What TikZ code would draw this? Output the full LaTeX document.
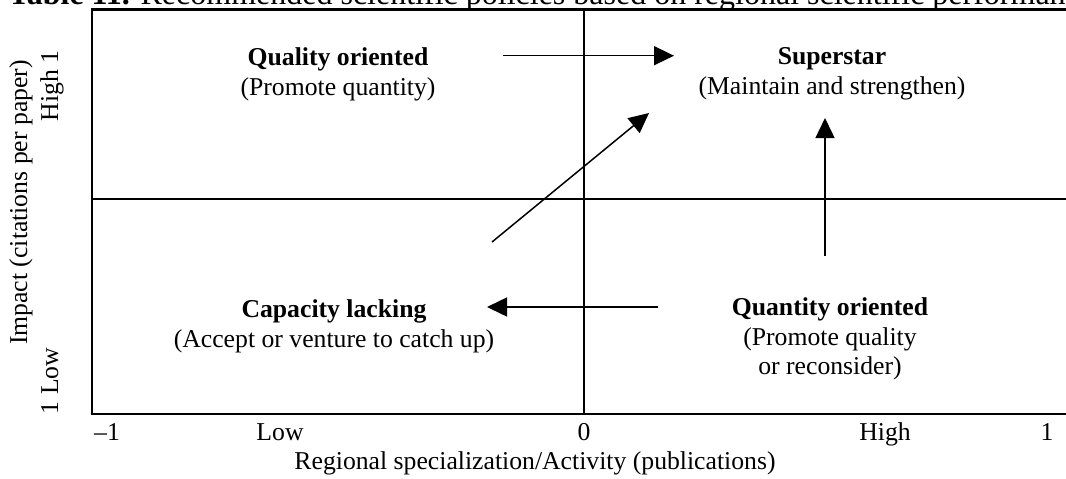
\documentclass[tikz,border=0pt]{standalone}
\usepackage{fontspec}
\setmainfont{Liberation Serif}
\usetikzlibrary{arrows.meta, positioning}

\tikzset{
  quad/.style={align=center, inner sep=0pt, font=\fontsize{12.85}{14.75}\selectfont},
  axislbl/.style={inner sep=0pt, font=\fontsize{12.85}{14.75}\selectfont},
  move/.style={line width=0.75pt, -{Triangle[length=10pt, width=9.5pt]}}
}

\begin{document}
\begin{tikzpicture}[x=0.5pt, y=-0.5pt]
    \useasboundingbox (0,0) rectangle (1066,478);

    % Caption, cut off by the top of the page
    \node[anchor=base west, inner sep=0pt, font=\fontsize{16}{19}\selectfont] (caption) at (8,4)
        {\textbf{Table 11.} Recommended scientific policies based on regional scientific performance};

    % Frame and the two axes through the middle
    \draw[line width=1.25pt] (92,9.7) rectangle (1100,414);
    \draw[line width=0.9pt] (584,9.7) -- (584,414);
    \draw[line width=0.9pt] (92,199) -- (1100,199);

    % Quadrants (base = baseline of the last line)
    \node[quad, anchor=base] (quality) at (338,95) {\textbf{Quality oriented}\\(Promote quantity)};
    \node[quad, anchor=base] (superstar) at (832,94) {\textbf{Superstar}\\(Maintain and strengthen)};
    \node[quad, anchor=base] (capacity) at (334,347) {\textbf{Capacity lacking}\\(Accept or venture to catch up)};
    \node[quad, anchor=base] (quantity) at (830,374.5) {\textbf{Quantity oriented}\\(Promote quality\\or reconsider)};

    % Policy moves
    \coordinate (qualfrom) at (503,55.7);
    \coordinate (qualto) at (674,55.7);
    \coordinate (capfrom) at (492,242);
    \coordinate (capto) at (649,113);
    \coordinate (quantfrom) at (825,256);
    \coordinate (quantto) at (825,118);
    \coordinate (backfrom) at (658,307);
    \coordinate (backto) at (487,307);
    \draw[move] (qualfrom) -- (qualto);
    \draw[move] (capfrom) -- (capto);
    \draw[move] (quantfrom) -- (quantto);
    \draw[move] (backfrom) -- (backto);

    % Vertical axis
    \node[axislbl, rotate=90, anchor=base] (impact) at (27,202.5) {Impact (citations per paper)};
    \node[axislbl, rotate=90, anchor=base] (ylow) at (58,381) {1 Low};
    \node[axislbl, rotate=90, anchor=base] (yhigh) at (58,86) {High 1};

    % Horizontal axis
    \node[axislbl, anchor=base] (xmin) at (107,440) {\textendash1};
    \node[axislbl, anchor=base] (xlow) at (280,440) {Low};
    \node[axislbl, anchor=base] (xzero) at (584,440) {0};
    \node[axislbl, anchor=base] (xhigh) at (885,440) {High};
    \node[axislbl, anchor=base] (xmax) at (1047,440) {1};
    \node[axislbl, anchor=base] (xtitle) at (535,469) {Regional specialization/Activity (publications)};
\end{tikzpicture}
\end{document}
